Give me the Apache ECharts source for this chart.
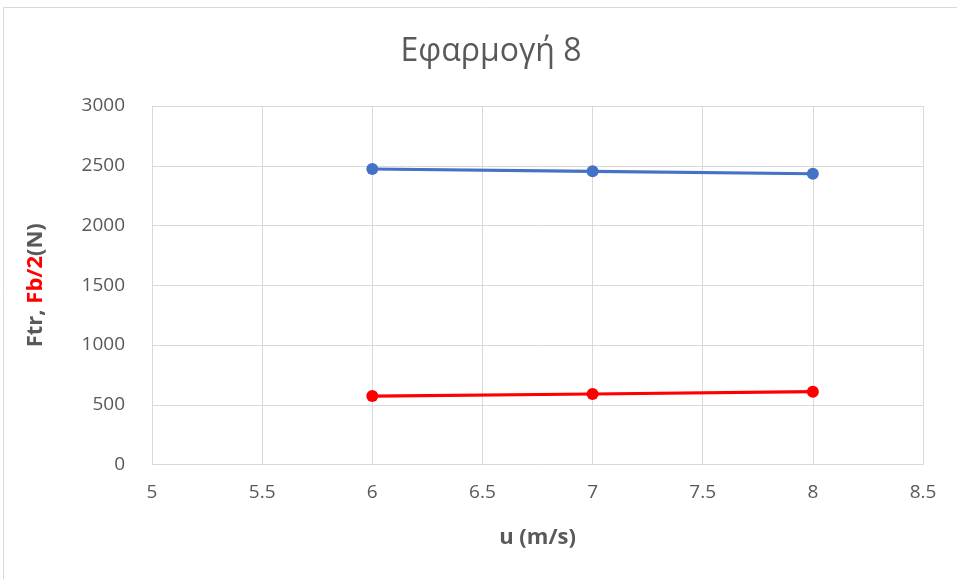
<!DOCTYPE html>
<html>
<head>
<meta charset="utf-8">
<script src="https://cdn.jsdelivr.net/npm/echarts@6/dist/echarts.min.js"></script>
<style>
  html, body { margin: 0; padding: 0; background: #fff; }
  #chart { width: 957px; height: 579px; }
</style>
</head>
<body>
<div id="chart"></div>
<script>
// Speed values (m/s) and the two force series (N)
const speeds = [6, 7, 8];
const ftr = [2473, 2453, 2433];
const fbHalf = [573, 590, 609];
const xTicks = [5, 5.5, 6, 6.5, 7, 7.5, 8, 8.5];
const yTicks = [0, 500, 1000, 1500, 2000, 2500, 3000];

const gray = '#595959';
const gridColor = '#d9d9d9';
const font = '"Open Sans", "Liberation Sans", sans-serif';

const chart = echarts.init(document.getElementById('chart'));
chart.setOption({
  animation: false,
  backgroundColor: '#fff',
  title: {
    text: 'Εφαρμογή 8',
    left: 486,
    textAlign: 'center',
    top: 31,
    textStyle: { color: gray, fontSize: 32, fontWeight: 'normal', fontFamily: font }
  },
  graphic: [{
    type: 'rect',
    shape: { x: 3.5, y: 7.5, width: 1000, height: 1000 },
    style: { fill: 'none', stroke: gridColor, lineWidth: 1 },
    silent: true
  }],
  grid: { left: 152, right: 34, top: 106, bottom: 114.5 },
  xAxis: {
    type: 'value',
    min: xTicks[0],
    max: xTicks[xTicks.length - 1],
    interval: 0.5,
    name: 'u (m/s)',
    nameLocation: 'middle',
    nameGap: 62,
    nameTextStyle: { color: gray, fontSize: 22, fontWeight: 'bold', fontFamily: font },
    axisLine: { show: true, lineStyle: { color: gridColor, width: 1 } },
    axisTick: { show: false },
    axisLabel: { color: gray, fontSize: 19, margin: 19, fontFamily: font },
    splitLine: { show: true, lineStyle: { color: gridColor, width: 1 } }
  },
  yAxis: {
    type: 'value',
    min: yTicks[0],
    max: yTicks[yTicks.length - 1],
    interval: 500,
    name: '{g|Ftr, }{r|Fb/2}{g|(N)}',
    nameLocation: 'middle',
    nameGap: 105,
    nameRotate: 90,
    nameTextStyle: {
      rich: {
        g: { color: gray, fontSize: 22, fontWeight: 'bold', fontFamily: font },
        r: { color: '#ff0000', fontSize: 22, fontWeight: 'bold', fontFamily: font }
      }
    },
    axisLine: { show: false },
    axisTick: { show: false },
    axisLabel: { color: gray, fontSize: 19, margin: 27, fontFamily: font, formatter: v => String(v) },
    splitLine: { show: true, lineStyle: { color: gridColor, width: 1 } }
  },
  series: [
    {
      name: 'Ftr',
      type: 'line',
      data: speeds.map((s, i) => [s, ftr[i]]),
      symbol: 'circle',
      symbolSize: 12,
      lineStyle: { color: '#4472c4', width: 3.2 },
      itemStyle: { color: '#4472c4' }
    },
    {
      name: 'Fb/2',
      type: 'line',
      data: speeds.map((s, i) => [s, fbHalf[i]]),
      symbol: 'circle',
      symbolSize: 12,
      lineStyle: { color: '#ff0000', width: 3.2 },
      itemStyle: { color: '#ff0000' }
    }
  ]
});
</script>
</body>
</html>
